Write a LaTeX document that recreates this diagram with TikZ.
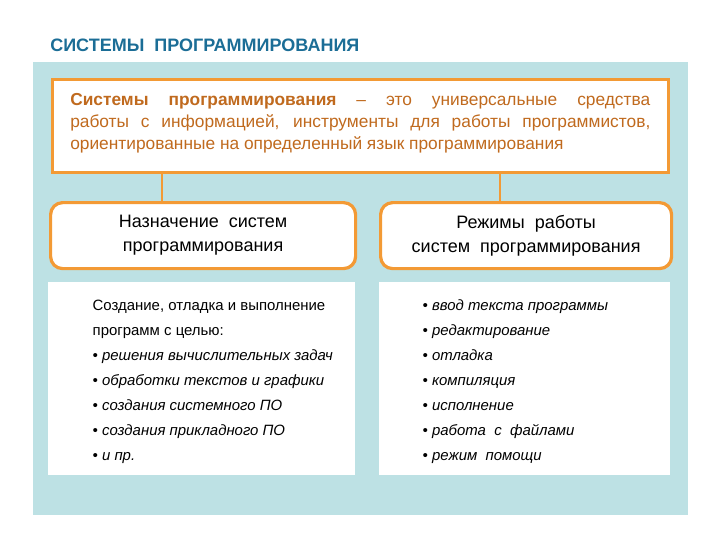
\documentclass[tikz,border=0pt]{standalone}
\usepackage{fontspec}
\setmainfont{Liberation Sans}
\definecolor{panel}{HTML}{BDE1E4}
\definecolor{org}{HTML}{F39A35}
\definecolor{otext}{HTML}{C06A1E}
\definecolor{ttl}{HTML}{1B6D96}
\tikzset{
  orgbox/.style={draw=org, line width=2.4pt, fill=white},
  link/.style={draw=org, line width=2pt},
  body/.style={anchor=base west, font=\fontsize{11.2}{14}\selectfont\itshape},
  plain/.style={anchor=base west, font=\fontsize{11.2}{14}\selectfont},
}
\begin{document}
\begin{tikzpicture}[x=0.75pt,y=-0.75pt]
\useasboundingbox (0,0) rectangle (720,540);
\node[anchor=west, text=ttl, font=\fontsize{13.5}{15}\selectfont\bfseries, inner sep=0pt] (title) at (50,45) {СИСТЕМЫ\ \ ПРОГРАММИРОВАНИЯ};
\fill[panel] (33,62) rectangle (688,515);
\node[orgbox, minimum width=616*0.75pt, minimum height=93*0.75pt, anchor=north west, inner sep=0pt] (top) at (51,78) {};
\node[anchor=north west, text width=435pt, align=justify, text=otext, font=\fontsize{13}{16.5}\selectfont, inner sep=0pt] (deftext) at (70,93)
{\textbf{Системы программирования} – это универсальные средства\linebreak работы с информацией, инструменты для работы программистов,\linebreak ориентированные на определенный язык программирования};
\node[orgbox, rounded corners=9pt, minimum width=305*0.75pt, minimum height=66*0.75pt, anchor=north west, align=center, font=\fontsize{13.5}{18}\selectfont] (lbox) at (49,201) {Назначение\ \ систем\\программирования};
\node[orgbox, rounded corners=9pt, minimum width=291*0.75pt, minimum height=66*0.75pt, anchor=north west, align=center, font=\fontsize{13.5}{18}\selectfont] (rbox) at (379,201) {Режимы\ \ работы\\систем\ \ программирования};
\draw[link] (top.south -| 162,0) coordinate (a1) -- (a1 |- lbox.north);
\draw[link] (top.south -| 500,0) coordinate (a2) -- (a2 |- rbox.north);
\fill[white] (48,282) rectangle (355,475);
\fill[white] (379,282) rectangle (670,475);
\node[plain] (l1) at (88,310) {Создание, отладка и выполнение};
\node[plain] (l2) at (88,335) {программ с целью:};
\node[body] (l3) at (88,360) {• решения вычислительных задач};
\node[body] (l4) at (88,385) {• обработки текстов и графики};
\node[body] (l5) at (88,410) {• создания системного ПО};
\node[body] (l6) at (88,435) {• создания прикладного ПО};
\node[body] (l7) at (88,460) {• и пр.};
\node[body] (r1) at (418,310) {• ввод текста программы};
\node[body] (r2) at (418,335) {• редактирование};
\node[body] (r3) at (418,360) {• отладка};
\node[body] (r4) at (418,385) {• компиляция};
\node[body] (r5) at (418,410) {• исполнение};
\node[body] (r6) at (418,435) {• работа\ \ с\ \ файлами};
\node[body] (r7) at (418,460) {• режим\ \ помощи};
\end{tikzpicture}
\end{document}
